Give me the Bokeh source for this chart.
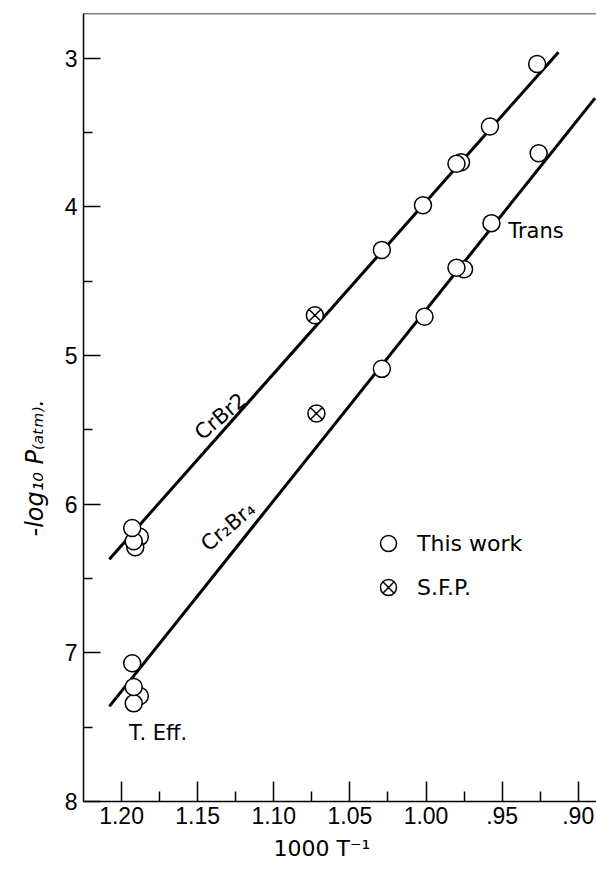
from bokeh.plotting import figure
from bokeh.models import Range1d, FixedTicker, Span, Label, Legend, LegendItem, Title
from bokeh.embed import file_html
from bokeh.resources import INLINE

# ---- data ----
# "This work" points, CrBr2 branch (1000/T, -log10 P)
crbr2_invT = [0.977, 0.980, 0.927, 0.958, 1.002, 1.029, 1.188, 1.191, 1.192, 1.193]
crbr2_logp = [3.70, 3.71, 3.04, 3.46, 3.99, 4.29, 6.22, 6.29, 6.25, 6.16]
# "This work" points, Cr2Br4 branch
cr2br4_invT = [0.975, 0.980, 0.926, 0.957, 1.001, 1.029, 1.193, 1.188, 1.192, 1.192]
cr2br4_logp = [4.42, 4.41, 3.64, 4.11, 4.74, 5.09, 7.07, 7.29, 7.34, 7.23]
# S.F.P. points
sfp_invT = [1.073, 1.072]
sfp_logp = [4.73, 5.39]
# fitted lines (end points)
crbr2_fit_invT = [1.208, 0.913]
crbr2_fit_logp = [6.37, 2.96]
cr2br4_fit_invT = [1.208, 0.889]
cr2br4_fit_logp = [7.36, 3.27]
# ticks
x_ticks = [1.20, 1.15, 1.10, 1.05, 1.00, 0.95, 0.90]
x_minor = [1.175, 1.125, 1.075, 1.025, 0.975, 0.925]
x_tick_labels = ["1.20", "1.15", "1.10", "1.05", "1.00", ".95", ".90"]
y_ticks = [3, 4, 5, 6, 7, 8]
y_minor = [3.5, 4.5, 5.5, 6.5, 7.5]
y_tick_labels = ["3", "4", "5", "6", "7", "8"]
x_title = "1000 T\u207b\u00b9"
y_title = "-log\u2081\u2080 P\u208d\u2090\u209c\u2098\u208e."

FONT = "DejaVu Sans"
TICK_FONT = "Liberation Sans"

p = figure(width=596, height=873, output_backend="svg", toolbar_location=None,
           x_range=Range1d(1.225, 0.888), y_range=Range1d(8.0, 2.70),
           min_border_left=83, min_border_right=0, min_border_top=13, min_border_bottom=72)
p.grid.visible = False
p.outline_line_color = None
p.background_fill_color = "white"

# axes
for ax in (p.xaxis[0], p.yaxis[0]):
    ax.axis_line_width = 1.5
    ax.axis_line_color = "black"
    ax.major_tick_line_width = 1.5
    ax.minor_tick_line_width = 1.5
    ax.major_tick_out = 0
    ax.minor_tick_out = 0
    ax.major_label_text_font = TICK_FONT
    ax.major_label_text_font_size = "23px"
    ax.major_label_text_color = "black"

p.xaxis.ticker = FixedTicker(ticks=x_ticks, minor_ticks=x_minor)
p.xaxis.major_label_overrides = {t: l for t, l in zip(x_ticks, x_tick_labels)}
p.xaxis.major_tick_in = 20
p.xaxis.minor_tick_in = 10
p.xaxis.major_label_standoff = 5

p.yaxis.ticker = FixedTicker(ticks=y_ticks, minor_ticks=y_minor)
p.yaxis.major_label_overrides = {t: l for t, l in zip(y_ticks, y_tick_labels)}
p.yaxis.major_tick_in = 17
p.yaxis.minor_tick_in = 9
p.yaxis.major_label_standoff = 6

# axis titles as side titles (offset measured from the start of the axis)
p.add_layout(Title(text=y_title, align="left", offset=265, standoff=26,
                   text_font=FONT, text_font_size="24px", text_font_style="italic",
                   text_color="black"), "left")
p.add_layout(Title(text=x_title, align="left", offset=190, standoff=14,
                   text_font=FONT, text_font_size="22px", text_font_style="normal",
                   text_color="black"), "below")

# top frame line
p.add_layout(Span(location=p.y_range.end, dimension="width", line_color="black", line_width=1.5))

# fitted lines
p.line(crbr2_fit_invT, crbr2_fit_logp, line_color="black", line_width=3)
p.line(cr2br4_fit_invT, cr2br4_fit_logp, line_color="black", line_width=3)

# points
r_tw = p.scatter(crbr2_invT, crbr2_logp, marker="circle", size=17,
                 fill_color="white", line_color="black", line_width=1.5)
p.scatter(cr2br4_invT, cr2br4_logp, marker="circle", size=17,
          fill_color="white", line_color="black", line_width=1.5)
r_sfp = p.scatter(sfp_invT, sfp_logp, marker="circle_x", size=17,
                  fill_color="white", line_color="black", line_width=1.5)

# annotations on the plot
p.add_layout(Label(x=1.135, y=5.41, text="CrBr2", angle=0.70, angle_units="rad",
                   text_align="center", text_baseline="middle",
                   text_font=FONT, text_font_size="21px", text_color="black"))
p.add_layout(Label(x=1.130, y=6.15, text="Cr\u2082Br\u2084", angle=0.70, angle_units="rad",
                   text_align="center", text_baseline="middle",
                   text_font=FONT, text_font_size="21px", text_color="black"))
p.add_layout(Label(x=0.946, y=4.16, text="Trans", text_align="left", text_baseline="middle",
                   text_font=FONT, text_font_size="21px", text_color="black"))
p.add_layout(Label(x=1.176, y=7.54, text="T. Eff.", text_align="center", text_baseline="middle",
                   text_font=FONT, text_font_size="21px", text_color="black"))

# legend
legend = Legend(items=[LegendItem(label="This work", renderers=[r_tw]),
                       LegendItem(label="S.F.P.", renderers=[r_sfp])],
                location=(285, 194), glyph_width=40, glyph_height=40, spacing=4,
                padding=0, margin=0, label_standoff=9,
                border_line_color=None, background_fill_alpha=0,
                label_text_font=FONT, label_text_font_size="22px", label_text_color="black")
p.add_layout(legend)

open("out.html", "w").write(file_html(p, INLINE))
